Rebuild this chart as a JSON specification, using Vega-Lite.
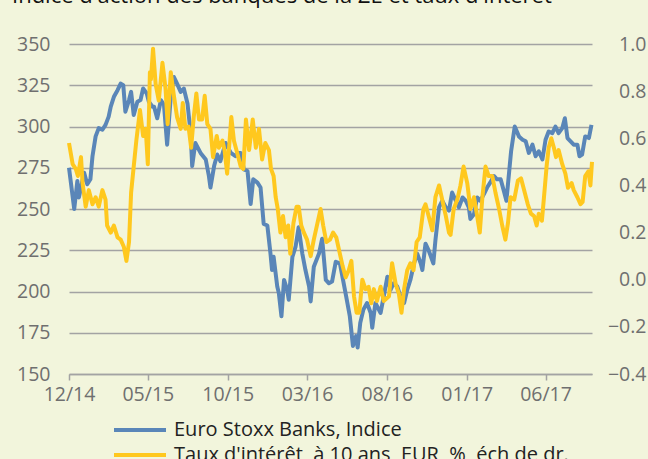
{
  "$schema": "https://vega.github.io/schema/vega-lite/v6.json",
  "width": 523,
  "height": 330,
  "autosize": {"type": "none"},
  "padding": {"left": 69, "top": 44, "right": 56, "bottom": 85},
  "background": "#f2f5dc",
  "title": {
    "text": "Indice d'action des banques de la ZE et taux d'intérêt",
    "anchor": "start", "frame": "group", "offset": 9, "baseline": "alphabetic",
    "dx": -57, "fontSize": 22, "fontWeight": "normal", "font": "Open Sans", "color": "#111111"
  },
  "config": {
    "view": {"stroke": null},
    "font": "Open Sans",
    "legend": {
      "orient": "none", "legendX": 82, "legendY": 376, "direction": "vertical",
      "symbolType": "M-9.4,0H1", "symbolSize": 100, "symbolStrokeWidth": 4,
      "labelFontSize": 20, "labelColor": "#222222", "rowPadding": 5, "padding": 0,
      "labelOffset": 3, "labelLimit": 700
    }
  },
  "datasets": {
    "banks": [
      {"d":"2014-12-01","v":275},{"d":"2014-12-11","v":250},{"d":"2014-12-17","v":267},{"d":"2014-12-20","v":257},
      {"d":"2014-12-30","v":272},{"d":"2015-01-05","v":265},{"d":"2015-01-11","v":268},{"d":"2015-01-15","v":282},
      {"d":"2015-01-21","v":294},{"d":"2015-01-27","v":299},{"d":"2015-02-03","v":298},{"d":"2015-02-09","v":301},
      {"d":"2015-02-15","v":306},{"d":"2015-02-19","v":312},{"d":"2015-02-25","v":318},{"d":"2015-03-04","v":322},
      {"d":"2015-03-10","v":326},{"d":"2015-03-15","v":325},{"d":"2015-03-19","v":309},{"d":"2015-03-26","v":316},
      {"d":"2015-03-30","v":321},{"d":"2015-04-04","v":307},{"d":"2015-04-11","v":315},{"d":"2015-04-17","v":316},
      {"d":"2015-04-22","v":323},{"d":"2015-04-29","v":320},{"d":"2015-05-03","v":315},{"d":"2015-05-10","v":312},
      {"d":"2015-05-13","v":312},{"d":"2015-05-19","v":305},{"d":"2015-05-26","v":316},{"d":"2015-06-01","v":313},
      {"d":"2015-06-07","v":289},{"d":"2015-06-14","v":318},{"d":"2015-06-20","v":330},{"d":"2015-06-26","v":326},
      {"d":"2015-07-03","v":321},{"d":"2015-07-09","v":323},{"d":"2015-07-16","v":314},{"d":"2015-07-22","v":296},
      {"d":"2015-07-25","v":276},{"d":"2015-07-31","v":290},{"d":"2015-08-10","v":284},{"d":"2015-08-20","v":280},
      {"d":"2015-08-26","v":270},{"d":"2015-08-29","v":263},{"d":"2015-09-05","v":276},{"d":"2015-09-11","v":283},
      {"d":"2015-09-17","v":279},{"d":"2015-09-27","v":290},{"d":"2015-10-07","v":284},{"d":"2015-10-16","v":282},
      {"d":"2015-10-22","v":284},{"d":"2015-10-26","v":284},{"d":"2015-11-01","v":274},{"d":"2015-11-08","v":273},
      {"d":"2015-11-14","v":253},{"d":"2015-11-19","v":268},{"d":"2015-11-27","v":266},{"d":"2015-12-03","v":263},
      {"d":"2015-12-09","v":241},{"d":"2015-12-16","v":240},{"d":"2015-12-22","v":223},{"d":"2015-12-25","v":213},
      {"d":"2015-12-28","v":221},{"d":"2016-01-04","v":203},{"d":"2016-01-07","v":199},{"d":"2016-01-12","v":185},
      {"d":"2016-01-17","v":207},{"d":"2016-01-23","v":201},{"d":"2016-01-26","v":195},{"d":"2016-02-02","v":221},
      {"d":"2016-02-08","v":227},{"d":"2016-02-14","v":239},{"d":"2016-02-21","v":223},{"d":"2016-02-27","v":213},
      {"d":"2016-03-05","v":203},{"d":"2016-03-08","v":194},{"d":"2016-03-14","v":215},{"d":"2016-03-24","v":223},
      {"d":"2016-03-30","v":232},{"d":"2016-04-06","v":207},{"d":"2016-04-12","v":205},{"d":"2016-04-18","v":206},
      {"d":"2016-04-25","v":218},{"d":"2016-05-03","v":217},{"d":"2016-05-09","v":207},{"d":"2016-05-15","v":197},
      {"d":"2016-05-22","v":185},{"d":"2016-05-28","v":167},{"d":"2016-06-03","v":173},{"d":"2016-06-06","v":166},
      {"d":"2016-06-11","v":181},{"d":"2016-06-17","v":189},{"d":"2016-06-24","v":193},{"d":"2016-07-01","v":187},
      {"d":"2016-07-04","v":178},{"d":"2016-07-10","v":193},{"d":"2016-07-20","v":187},{"d":"2016-07-26","v":197},
      {"d":"2016-08-02","v":209},{"d":"2016-08-08","v":201},{"d":"2016-08-14","v":205},{"d":"2016-08-21","v":203},
      {"d":"2016-08-27","v":197},{"d":"2016-09-03","v":193},{"d":"2016-09-09","v":201},{"d":"2016-09-15","v":207},
      {"d":"2016-09-22","v":217},{"d":"2016-09-28","v":223},{"d":"2016-10-05","v":217},{"d":"2016-10-08","v":213},
      {"d":"2016-10-14","v":229},{"d":"2016-10-20","v":225},{"d":"2016-10-29","v":217},{"d":"2016-11-02","v":231},
      {"d":"2016-11-09","v":251},{"d":"2016-11-15","v":255},{"d":"2016-11-22","v":251},{"d":"2016-11-28","v":249},
      {"d":"2016-12-04","v":260},{"d":"2016-12-11","v":255},{"d":"2016-12-17","v":251},{"d":"2016-12-24","v":257},
      {"d":"2016-12-30","v":255},{"d":"2017-01-05","v":251},{"d":"2017-01-08","v":244},{"d":"2017-01-15","v":247},
      {"d":"2017-01-21","v":257},{"d":"2017-01-27","v":255},{"d":"2017-02-03","v":259},{"d":"2017-02-09","v":263},
      {"d":"2017-02-15","v":266},{"d":"2017-02-22","v":270},{"d":"2017-02-28","v":268},{"d":"2017-03-07","v":268},
      {"d":"2017-03-13","v":261},{"d":"2017-03-18","v":255},{"d":"2017-03-27","v":285},{"d":"2017-04-03","v":300},
      {"d":"2017-04-11","v":294},{"d":"2017-04-18","v":292},{"d":"2017-04-24","v":291},{"d":"2017-04-30","v":284},
      {"d":"2017-05-07","v":289},{"d":"2017-05-13","v":282},{"d":"2017-05-19","v":285},{"d":"2017-05-26","v":280},
      {"d":"2017-06-01","v":292},{"d":"2017-06-07","v":297},{"d":"2017-06-14","v":296},{"d":"2017-06-20","v":300},
      {"d":"2017-06-26","v":296},{"d":"2017-07-03","v":299},{"d":"2017-07-08","v":305},{"d":"2017-07-13","v":293},
      {"d":"2017-07-19","v":291},{"d":"2017-07-25","v":289},{"d":"2017-08-01","v":289},{"d":"2017-08-05","v":282},
      {"d":"2017-08-10","v":283},{"d":"2017-08-16","v":294},{"d":"2017-08-23","v":293},{"d":"2017-08-28","v":301}
    ],
    "rates": [
      {"d":"2014-12-01","v":0.58},{"d":"2014-12-08","v":0.49},{"d":"2014-12-14","v":0.47},{"d":"2014-12-18","v":0.44},
      {"d":"2014-12-24","v":0.52},{"d":"2014-12-27","v":0.41},{"d":"2015-01-02","v":0.31},{"d":"2015-01-08","v":0.38},
      {"d":"2015-01-15","v":0.32},{"d":"2015-01-21","v":0.35},{"d":"2015-01-27","v":0.31},{"d":"2015-02-03","v":0.38},
      {"d":"2015-02-09","v":0.34},{"d":"2015-02-12","v":0.23},{"d":"2015-02-19","v":0.2},{"d":"2015-02-25","v":0.23},
      {"d":"2015-03-04","v":0.18},{"d":"2015-03-10","v":0.17},{"d":"2015-03-16","v":0.14},{"d":"2015-03-21","v":0.08},
      {"d":"2015-03-26","v":0.16},{"d":"2015-03-30","v":0.37},{"d":"2015-04-04","v":0.48},{"d":"2015-04-09","v":0.59},
      {"d":"2015-04-16","v":0.72},{"d":"2015-04-22","v":0.61},{"d":"2015-04-27","v":0.64},{"d":"2015-05-01","v":0.49},
      {"d":"2015-05-05","v":0.88},{"d":"2015-05-07","v":0.85},{"d":"2015-05-11","v":0.98},{"d":"2015-05-16","v":0.83},
      {"d":"2015-05-22","v":0.76},{"d":"2015-05-29","v":0.92},{"d":"2015-06-04","v":0.81},{"d":"2015-06-08","v":0.66},
      {"d":"2015-06-14","v":0.88},{"d":"2015-06-20","v":0.78},{"d":"2015-06-26","v":0.69},{"d":"2015-07-03","v":0.64},
      {"d":"2015-07-07","v":0.75},{"d":"2015-07-12","v":0.64},{"d":"2015-07-18","v":0.65},{"d":"2015-07-23","v":0.56},
      {"d":"2015-07-28","v":0.69},{"d":"2015-08-02","v":0.79},{"d":"2015-08-07","v":0.68},{"d":"2015-08-13","v":0.68},
      {"d":"2015-08-18","v":0.78},{"d":"2015-08-23","v":0.66},{"d":"2015-08-29","v":0.64},{"d":"2015-09-03","v":0.52},
      {"d":"2015-09-10","v":0.61},{"d":"2015-09-14","v":0.56},{"d":"2015-09-21","v":0.59},{"d":"2015-09-25","v":0.55},
      {"d":"2015-09-30","v":0.45},{"d":"2015-10-08","v":0.69},{"d":"2015-10-13","v":0.59},{"d":"2015-10-19","v":0.54},
      {"d":"2015-10-26","v":0.48},{"d":"2015-10-31","v":0.47},{"d":"2015-11-05","v":0.68},{"d":"2015-11-11","v":0.55},
      {"d":"2015-11-18","v":0.68},{"d":"2015-11-24","v":0.56},{"d":"2015-11-30","v":0.64},{"d":"2015-12-06","v":0.51},
      {"d":"2015-12-12","v":0.58},{"d":"2015-12-19","v":0.55},{"d":"2015-12-23","v":0.47},{"d":"2015-12-28","v":0.44},
      {"d":"2016-01-01","v":0.35},{"d":"2016-01-05","v":0.3},{"d":"2016-01-10","v":0.2},{"d":"2016-01-15","v":0.27},
      {"d":"2016-01-20","v":0.18},{"d":"2016-01-25","v":0.23},{"d":"2016-01-29","v":0.11},{"d":"2016-02-04","v":0.24},
      {"d":"2016-02-10","v":0.31},{"d":"2016-02-14","v":0.31},{"d":"2016-02-19","v":0.23},{"d":"2016-02-24","v":0.2},
      {"d":"2016-03-01","v":0.17},{"d":"2016-03-08","v":0.1},{"d":"2016-03-14","v":0.17},{"d":"2016-03-21","v":0.24},
      {"d":"2016-03-27","v":0.3},{"d":"2016-04-01","v":0.23},{"d":"2016-04-07","v":0.16},{"d":"2016-04-14","v":0.17},
      {"d":"2016-04-20","v":0.2},{"d":"2016-04-26","v":0.18},{"d":"2016-05-01","v":0.13},{"d":"2016-05-08","v":0.06},
      {"d":"2016-05-14","v":0.01},{"d":"2016-05-20","v":0.04},{"d":"2016-05-25","v":0.08},{"d":"2016-05-30","v":-0.07},
      {"d":"2016-06-04","v":-0.14},{"d":"2016-06-09","v":-0.14},{"d":"2016-06-15","v":0.0},{"d":"2016-06-21","v":-0.04},
      {"d":"2016-06-27","v":-0.03},{"d":"2016-07-02","v":-0.1},{"d":"2016-07-07","v":-0.04},{"d":"2016-07-13","v":-0.09},
      {"d":"2016-07-20","v":-0.03},{"d":"2016-07-26","v":-0.09},{"d":"2016-08-05","v":-0.07},{"d":"2016-08-11","v":0.07},
      {"d":"2016-08-18","v":-0.02},{"d":"2016-08-24","v":-0.06},{"d":"2016-08-29","v":-0.14},{"d":"2016-09-03","v":-0.04},
      {"d":"2016-09-09","v":0.04},{"d":"2016-09-15","v":0.07},{"d":"2016-09-21","v":0.04},{"d":"2016-09-27","v":0.16},
      {"d":"2016-10-03","v":0.18},{"d":"2016-10-10","v":0.3},{"d":"2016-10-14","v":0.32},{"d":"2016-10-20","v":0.27},
      {"d":"2016-10-27","v":0.21},{"d":"2016-11-02","v":0.35},{"d":"2016-11-09","v":0.4},{"d":"2016-11-15","v":0.34},
      {"d":"2016-11-22","v":0.27},{"d":"2016-11-28","v":0.2},{"d":"2016-12-01","v":0.19},{"d":"2016-12-07","v":0.3},
      {"d":"2016-12-14","v":0.34},{"d":"2016-12-20","v":0.4},{"d":"2016-12-26","v":0.48},{"d":"2017-01-02","v":0.41},
      {"d":"2017-01-08","v":0.3},{"d":"2017-01-15","v":0.35},{"d":"2017-01-21","v":0.27},{"d":"2017-01-26","v":0.2},
      {"d":"2017-01-31","v":0.35},{"d":"2017-02-06","v":0.48},{"d":"2017-02-12","v":0.44},{"d":"2017-02-19","v":0.44},
      {"d":"2017-02-25","v":0.37},{"d":"2017-03-04","v":0.3},{"d":"2017-03-10","v":0.23},{"d":"2017-03-16","v":0.17},
      {"d":"2017-03-21","v":0.24},{"d":"2017-03-26","v":0.35},{"d":"2017-04-02","v":0.34},{"d":"2017-04-09","v":0.42},
      {"d":"2017-04-15","v":0.43},{"d":"2017-04-21","v":0.38},{"d":"2017-04-28","v":0.32},{"d":"2017-05-04","v":0.28},
      {"d":"2017-05-10","v":0.27},{"d":"2017-05-15","v":0.23},{"d":"2017-05-19","v":0.28},{"d":"2017-05-25","v":0.25},
      {"d":"2017-05-29","v":0.35},{"d":"2017-06-03","v":0.48},{"d":"2017-06-07","v":0.56},{"d":"2017-06-12","v":0.6},
      {"d":"2017-06-17","v":0.56},{"d":"2017-06-21","v":0.52},{"d":"2017-06-26","v":0.55},{"d":"2017-07-03","v":0.49},
      {"d":"2017-07-09","v":0.45},{"d":"2017-07-14","v":0.39},{"d":"2017-07-21","v":0.41},{"d":"2017-07-25","v":0.38},
      {"d":"2017-08-01","v":0.35},{"d":"2017-08-07","v":0.32},{"d":"2017-08-11","v":0.33},{"d":"2017-08-16","v":0.44},
      {"d":"2017-08-22","v":0.46},{"d":"2017-08-26","v":0.4},{"d":"2017-08-29","v":0.5}
    ]
  },
  "layer": [
    {
      "data": {"name": "banks"},
      "mark": {"type": "line", "strokeWidth": 4, "strokeJoin": "round"},
      "encoding": {
        "x": {
          "field": "d", "type": "temporal",
          "scale": {"type": "utc", "domain": [{"year": 2014, "month": 12, "date": 1, "utc": true}, {"year": 2017, "month": 8, "date": 29, "utc": true}]},
          "axis": {
            "title": null, "format": "%m/%y", "labelFlush": false, "grid": false,
            "values": [
              {"year": 2014, "month": 12, "date": 1, "utc": true},
              {"year": 2015, "month": 5, "date": 1, "utc": true},
              {"year": 2015, "month": 10, "date": 1, "utc": true},
              {"year": 2016, "month": 3, "date": 1, "utc": true},
              {"year": 2016, "month": 8, "date": 1, "utc": true},
              {"year": 2017, "month": 1, "date": 1, "utc": true},
              {"year": 2017, "month": 6, "date": 1, "utc": true}
            ],
            "domainColor": "#a3a3a3", "domainWidth": 1.5, "tickColor": "#a3a3a3", "tickWidth": 1.5, "tickSize": 6,
            "labelFontSize": 19.5, "labelColor": "#6f6f6f", "labelPadding": 5
          }
        },
        "y": {
          "field": "v", "type": "quantitative",
          "scale": {"domain": [150, 350], "nice": false, "zero": false},
          "axis": {
            "title": null, "orient": "left", "values": [150, 175, 200, 225, 250, 275, 300, 325, 350],
            "grid": true, "gridColor": "#a3a3a3", "gridWidth": 1.5, "domain": false, "ticks": false,
            "labelFontSize": 19.5, "labelColor": "#6f6f6f", "labelPadding": 19
          }
        },
        "color": {
          "datum": "Euro Stoxx Banks, Indice",
          "scale": {"domain": ["Euro Stoxx Banks, Indice", "Taux d'intérêt, à 10 ans, EUR, %, éch de dr."], "range": ["#5a86b8", "#ffc81e"]},
          "legend": {"title": null}
        }
      }
    },
    {
      "data": {"name": "rates"},
      "mark": {"type": "line", "strokeWidth": 4, "strokeJoin": "round"},
      "encoding": {
        "x": {"field": "d", "type": "temporal"},
        "y": {
          "field": "v", "type": "quantitative",
          "scale": {"domain": [-0.4, 1.0], "nice": false, "zero": false},
          "axis": {
            "title": null, "orient": "right", "values": [-0.4, -0.2, 0, 0.2, 0.4, 0.6, 0.8, 1.0], "format": ".1f",
            "grid": false, "domain": false, "ticks": false, "labelAlign": "right",
            "labelFontSize": 19.5, "labelColor": "#6f6f6f", "labelPadding": 54
          }
        },
        "color": {"datum": "Taux d'intérêt, à 10 ans, EUR, %, éch de dr."}
      }
    }
  ],
  "resolve": {"scale": {"y": "independent"}}
}
